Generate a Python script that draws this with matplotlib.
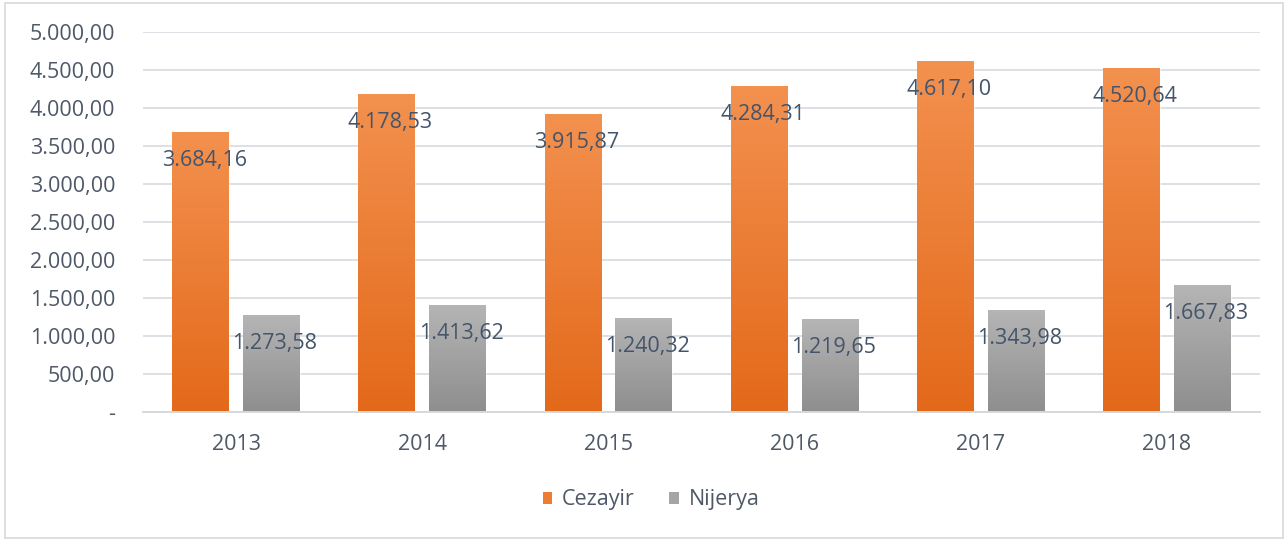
import matplotlib
matplotlib.use("Agg")
import matplotlib.pyplot as plt
import numpy as np
from matplotlib.patches import Rectangle, Patch
from matplotlib.colors import LinearSegmentedColormap
from matplotlib.ticker import FuncFormatter

years = ["2013", "2014", "2015", "2016", "2017", "2018"]
cezayir = [3684.16, 4178.53, 3915.87, 4284.31, 4617.10, 4520.64]
nijerya = [1273.58, 1413.62, 1240.32, 1219.65, 1343.98, 1667.83]
series_names = ["Cezayir", "Nijerya"]

plt.rcParams['font.family'] = ['Open Sans', 'DejaVu Sans']

W, H = 1288, 541
fig = plt.figure(figsize=(W / 100, H / 100), dpi=100)
ax = fig.add_axes([143 / W, 1 - 412 / H, (1260 - 143) / W, (412 - 32) / H])

# outer frame
fig.patches.append(Rectangle((5 / W, 3 / H), (1283 - 5) / W, (538 - 3) / H,
                             transform=fig.transFigure, fill=False,
                             edgecolor="#D9D9D9", linewidth=1.2))

x = np.arange(len(years))
bw = 0.305
off = 0.19

def tr(v):
    s = f"{v:,.2f}"
    return s.replace(",", "X").replace(".", ",").replace("X", ".")

tick_fmt = FuncFormatter(lambda v, p: "-" if v == 0 else tr(v))

orange_cmap = LinearSegmentedColormap.from_list("o", ["#E3691A", "#F3914F"])
gray_cmap = LinearSegmentedColormap.from_list("g", ["#8E8E8E", "#B5B5B5"])
grad = np.linspace(0, 1, 256).reshape(-1, 1)

b1 = ax.bar(x - off, cezayir, bw, color="#ED7D31", zorder=2, label=series_names[0])
b2 = ax.bar(x + off, nijerya, bw, color="#A5A5A5", zorder=2, label=series_names[1])

for bars, cmap in ((b1, orange_cmap), (b2, gray_cmap)):
    for r in bars:
        x0, y0 = r.get_x(), r.get_y()
        w, h = r.get_width(), r.get_height()
        im = ax.imshow(grad, cmap=cmap, origin="lower", aspect="auto",
                       extent=[x0, x0 + w, y0, y0 + h], zorder=2.5)
        r.set_facecolor("none")
        r.set_edgecolor("#FFFFFF")
        r.set_linewidth(0.4)
        im.set_clip_path(r)

label_color = "#44546A"
fs = 15.5
for bars, vals in ((b1, cezayir), (b2, nijerya)):
    for r, v in zip(bars, vals):
        ax.annotate(tr(v), (r.get_x() + r.get_width() / 2, v),
                    xytext=(2.5, -20.5), textcoords="offset points",
                    ha="center", va="center", fontsize=fs,
                    color=label_color, zorder=5)

ax.set_xlim(-0.5, len(years) - 0.5)
ax.set_ylim(0, 5000)
ax.set_yticks(np.arange(0, 5001, 500))
ax.yaxis.set_major_formatter(tick_fmt)
ax.set_xticks(x)
ax.set_xticklabels(years)
ax.grid(axis="y", color="#DDE1E6", linewidth=1.4, zorder=0)
ax.set_axisbelow(True)
for s in ["top", "right", "left"]:
    ax.spines[s].set_visible(False)
ax.spines["bottom"].set_color("#D5D9DE")
ax.spines["bottom"].set_linewidth(1.4)
ax.tick_params(axis="both", length=0, labelsize=fs, colors="#4E5867")
ax.tick_params(axis="y", pad=20)
ax.tick_params(axis="x", pad=16)

handles = [Patch(facecolor="#ED7D31"), Patch(facecolor="#A5A5A5")]
fig.legend(handles, series_names, loc="center", bbox_to_anchor=(651 / W, 1 - 500 / H),
           ncol=2, frameon=False, fontsize=fs, handlelength=0.45, handleheight=0.45,
           handletextpad=0.45, columnspacing=1.6, labelcolor="#4E5867")

fig.savefig("out.png", dpi=100)
